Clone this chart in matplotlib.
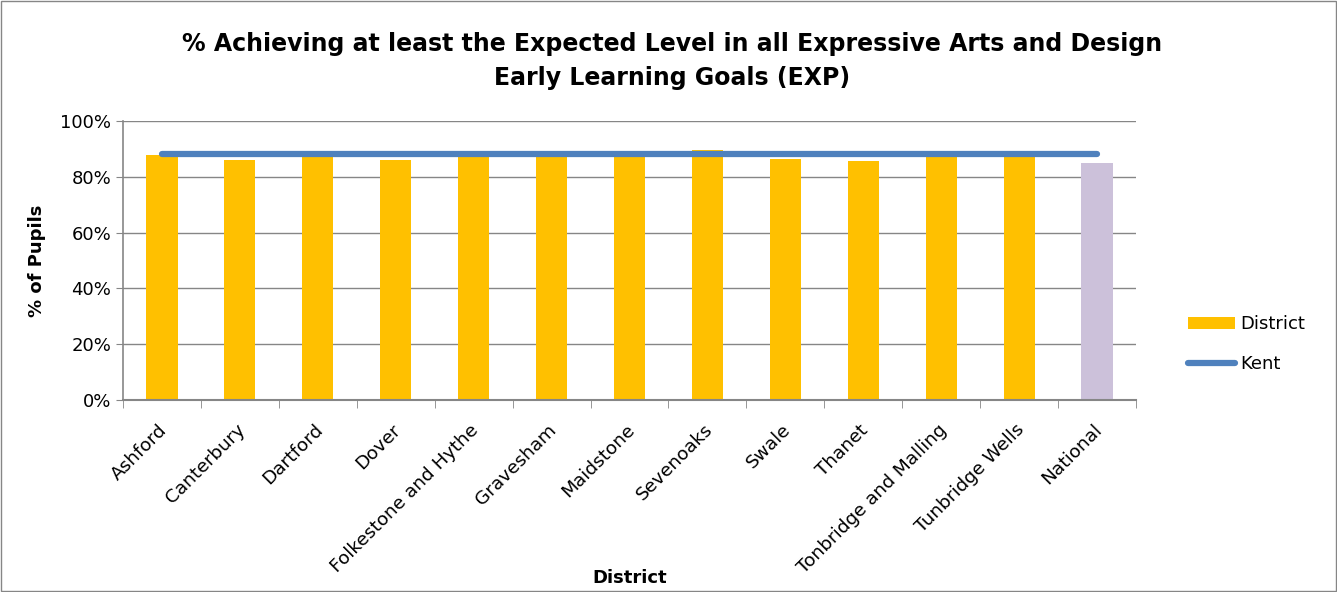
import matplotlib.pyplot as plt
import numpy as np
from matplotlib.patches import Rectangle
from matplotlib.transforms import ScaledTranslation

districts = ["Ashford", "Canterbury", "Dartford", "Dover", "Folkestone and Hythe",
             "Gravesham", "Maidstone", "Sevenoaks", "Swale", "Thanet",
             "Tonbridge and Malling", "Tunbridge Wells", "National"]
district_pct = [87.8, 85.9, 88.0, 85.9, 88.0, 88.0, 88.0, 89.5, 86.3, 85.7, 88.0, 88.0, 84.9]
kent_pct = 88.0


def main():
    plt.rcParams["font.family"] = ["Verdana", "DejaVu Sans"]
    fig = plt.figure(figsize=(13.37, 5.92), dpi=100)
    ax = fig.add_axes([123 / 1337, 1 - 400 / 592, (1136 - 123) / 1337, (400 - 121) / 592])

    x = np.arange(len(districts))
    colors = ["#FFC000"] * (len(districts) - 1) + ["#CCC1DA"]
    bars = ax.bar(x, district_pct, width=0.4, color=colors, zorder=2, label="District")
    line, = ax.plot(x, [kent_pct] * len(x), color="#4F81BD", lw=4.5, solid_capstyle="round",
                    zorder=3, label="Kent")

    ax.set_xlim(-0.5, len(districts) - 0.5)
    ax.set_ylim(0, 100)
    ax.set_yticks(np.arange(0, 101, 20))
    ax.set_yticklabels([f"{v}%" for v in range(0, 101, 20)], fontsize=13)
    ax.yaxis.grid(True, color="#868686", lw=1, zorder=0)
    ax.set_xticks(x)
    ax.set_xticklabels(districts, rotation=45, ha="right", rotation_mode="anchor", fontsize=13.3)
    ax.tick_params(axis="x", length=0, pad=15)
    # nudge labels a little left so they end near the bar centre
    shift = ScaledTranslation(-4 / 100, 0, fig.dpi_scale_trans)
    for lab in ax.get_xticklabels():
        lab.set_transform(lab.get_transform() + shift)
    ax.tick_params(axis="y", length=5, color="#868686")
    # category separator ticks
    ax.set_xticks(np.arange(-0.5, len(districts), 1), minor=True)
    ax.tick_params(axis="x", which="minor", length=6, color="#868686")

    for s in ["top", "right"]:
        ax.spines[s].set_visible(False)
    ax.spines["left"].set_color("#868686")
    ax.spines["bottom"].set_color("#868686")
    ax.spines["left"].set_linewidth(1.2)
    ax.spines["bottom"].set_linewidth(1.5)

    ax.set_ylabel("% of Pupils", fontsize=13, fontweight="bold", labelpad=10)
    fig.text(630 / 1337, 1 - 578 / 592, "District", ha="center", va="center",
             fontsize=13, fontweight="bold")
    fig.text(672 / 1337, 1 - 61 / 592,
             "% Achieving at least the Expected Level in all Expressive Arts and Design\nEarly Learning Goals (EXP)",
             ha="center", va="center", fontsize=17, fontweight="bold", linespacing=1.5)

    ax.legend([bars, line], ["District", "Kent"], loc="center left",
              bbox_to_anchor=(1.035, 0.2), frameon=False,
              fontsize=13, handlelength=2.6, labelspacing=1.2, handletextpad=0.3)

    fig.patches.append(Rectangle((0.001, 0.002), 0.998, 0.996, transform=fig.transFigure,
                                 fill=False, edgecolor="#868686", lw=1))
    fig.savefig("out.png", dpi=100)


if __name__ == "__main__":
    main()
